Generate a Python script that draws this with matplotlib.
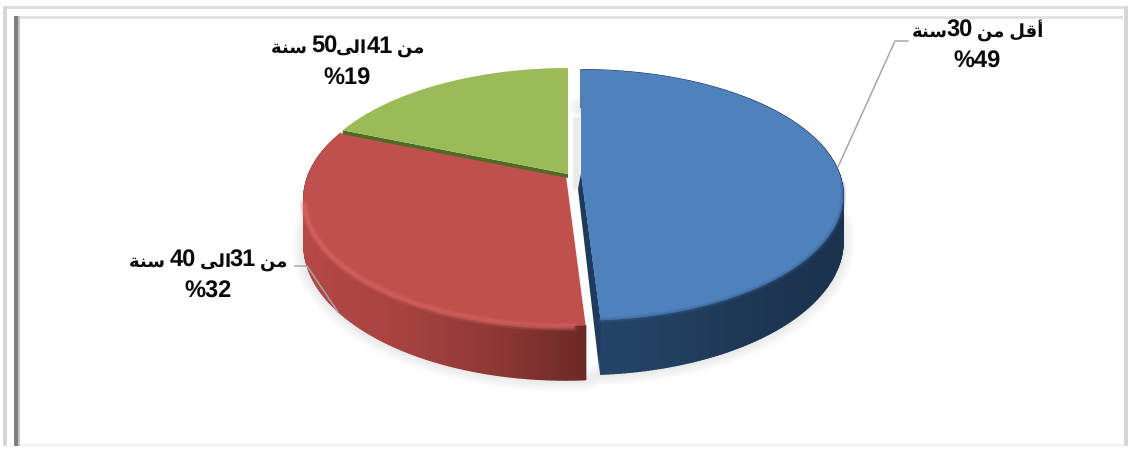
#!/usr/bin/env python3
# -*- coding: utf-8 -*-
import re
import numpy as np
import matplotlib
matplotlib.use('Agg')
import matplotlib.pyplot as plt
from matplotlib.collections import PolyCollection
from matplotlib.colors import LinearSegmentedColormap
from matplotlib.patches import Polygon, Rectangle

plt.rcParams['font.family'] = ['Liberation Sans', 'DejaVu Sans']
plt.rcParams['text.hinting'] = 'no_hinting'

# Age groups, share in percent
shares = [49, 32, 19]

# Words in shaped forms, left to right, since matplotlib does not shape Arabic
SANA = '\uFE94\uFEE8\uFEB3'     # sana
MIN = '\uFEE6\uFEE3'            # min
AQAL = '\uFEDE\uFED7\uFE83'     # aqal
ILA = '\uFEF0\uFEDF\uFE8D'      # ila

age_labels = [SANA + '30 ' + MIN + ' ' + AQAL,
              SANA + ' 40 ' + ILA + '31 ' + MIN,
              SANA + ' 50' + ILA + '41 ' + MIN]

# Pie shape (pixels)
K = 0.1765      # perspective
DEPTH = 44.5

fig = plt.figure(figsize=(11.29, 4.52), dpi=100)
ax = fig.add_axes([0, 0, 1, 1])
ax.set_xlim(0, 1129)
ax.set_ylim(452, 0)
ax.axis('off')


def rim(theta, cx, cy, b, a):
    # theta in degrees, clockwise from the top of the pie
    t = np.radians(theta)
    u, v = np.sin(t), np.cos(t)
    w = 1 + K * v
    return cx + b * u / w, cy - a * v / w, DEPTH / w


def draw_slice(start, end, cx, cy, b, a, top_col, wall_col, z):
    th = np.linspace(start, end, 240)
    x, y, d = rim(th, cx, cy, b, a)
    # soft shadow under the wall
    for lw in range(2, 20, 3):
        ax.plot(x, y + d, color='k', lw=lw, alpha=0.016, zorder=1,
                solid_capstyle='round')
    # outer wall, shaded along x
    quads = [[(x[i], y[i]), (x[i + 1], y[i + 1]),
              (x[i + 1], y[i + 1] + d[i + 1]), (x[i], y[i] + d[i])]
             for i in range(len(th) - 1)]
    cmap = LinearSegmentedColormap.from_list('wall', wall_col)
    norm = (x[:-1] - x.min()) / (x.max() - x.min())
    ax.add_collection(PolyCollection(quads, facecolors=cmap(norm),
                                     edgecolors=cmap(norm), linewidths=1.0,
                                     zorder=z))
    # top face
    ax.add_patch(Polygon(np.r_[[[cx, cy]], np.c_[x, y]], closed=True,
                         fc=top_col, ec='none', zorder=z + 1))
    return x, y, d


def mixed_line(x_mid, y_base, s):
    # Digits are set larger than the Arabic words, so each run is placed by hand
    runs = [r for r in re.split(r'(\d+)', s) if r]
    rend = fig.canvas.get_renderer()
    items = []
    for r in runs:
        size = 17 if r.isdigit() else 13
        t = ax.text(0, y_base, r, ha='left', va='baseline', fontsize=size,
                    fontweight='bold', color='#0a0a0a', zorder=10)
        items.append((t, t.get_window_extent(rend).width - 1))
    x = x_mid - sum(w for _, w in items) / 2
    for t, w in items:
        t.set_x(x)
        x += w


# Slice angles from the shares
edges = np.cumsum([0] + shares) * 3.6
blue_a, red_a, green_a = edges[:2], edges[1:3], edges[2:4]

# Faint shadow in the gap behind the blue slice
ax.plot([575.5, 575.5], [118, 190], color='#ebebeb', lw=5, zorder=1,
        solid_capstyle='butt')

# Red slice
rx, ry, rd = draw_slice(red_a[0], red_a[1], 566, 177, 258, 123.5, '#bf504e',
                        ['#b44846', '#a8433f', '#8f3836', '#6c2926'], 3)
# raised edge along the front of the red slice
front = (rx < 575) & (ry > 205)
for lw, al in [(6, 0.2), (3.5, 0.32), (1.8, 0.38)]:
    ax.plot(rx[front], ry[front] + 1, color='#e06a67', lw=lw, alpha=al, zorder=4.5)

# Green slice and its dark cut face along the red one
gx, gy, gd = rim(green_a[0], 568, 174, 258, 123.5)
strip = [(gx, gy), (568, 175), (568, 179), (gx, gy + 4)]
ax.add_patch(Polygon(strip, closed=True, fc='#4f6a24', ec='none', zorder=5))
th = np.linspace(green_a[0], green_a[1], 120)
x, y, d = rim(th, 568, 175, 258, 123.5)
ax.add_patch(Polygon(np.r_[[[568, 175]], np.c_[x, y - (y < 175)]], closed=True,
                     fc='#9bbb59', ec='none', zorder=6))

# Blue slice, pulled out to the right
# cut face first, seen left of the top face
bx0, by0, bd0 = rim(blue_a[1], 581, 174, 258, 121.5)
cut = [(581, 174), (bx0, by0), (bx0 - 1, by0 + bd0 - 1), (578, 190)]
bx, by, bd = draw_slice(blue_a[0], blue_a[1], 581, 174, 258, 121.5, '#4f81bd',
                        ['#25456b', '#21405f', '#1d3654', '#1b324e'], 7)
ax.add_patch(Polygon(cut, closed=True, fc='#1e3a5c', ec='none', zorder=7.5))
ax.add_patch(Polygon(np.r_[[[581, 174]], np.c_[bx, by]], closed=True,
                     fc='#4f81bd', ec='none', zorder=8))
front = by > 185
for lw, al in [(4, 0.2), (2, 0.3)]:
    ax.plot(bx[front], by[front], color='#34608f', lw=lw, alpha=al, zorder=8.5)

# Leader lines
ax.plot([908, 895, 838], [42, 42, 168], color='#a6a6a6', lw=1.1, zorder=9)
ax.plot([295, 307, 338], [267, 267, 313], color='#a6a6a6', lw=1.1, zorder=9)

# Labels, age group above share
label_pos = [(977, 37, 68), (208, 267, 298), (347, 53, 85)]
for name, share, (lx, y1, y2) in zip(age_labels, shares, label_pos):
    mixed_line(lx, y1, name)
    ax.text(lx, y2, '%{}'.format(share), ha='center', va='baseline', fontsize=17,
            fontweight='bold', color='#0a0a0a', zorder=10)

# Frame around the chart
for (x0, y0, w, h, col) in [(3, 7, 1124, 2.5, '#dedede'),
                            (3, 7, 4, 440, '#d6d6d6'),
                            (1124, 7, 4, 440, '#d6d6d6'),
                            (15, 17, 1108, 3, '#e2e2e2'),
                            (15, 445, 1108, 2, '#efefef'),
                            (14, 17, 5, 430, '#7f7f7f'),
                            (18, 17, 2, 430, '#c4c4c4')]:
    ax.add_patch(Rectangle((x0, y0), w, h, fc=col, ec='none', zorder=0.5))

fig.savefig('out.png', dpi=100)
